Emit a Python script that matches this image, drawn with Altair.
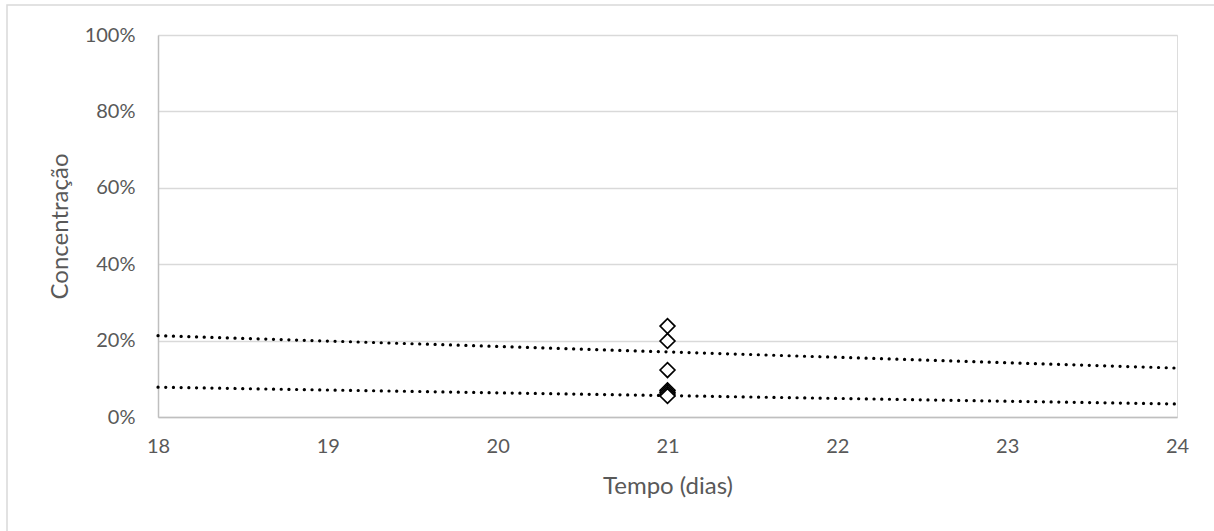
import altair as alt
import pandas as pd

# Observed points
days = [21, 21, 21, 21, 21, 21, 21]
conc = [0.238, 0.199, 0.123, 0.070, 0.065, 0.060, 0.055]

# Trend lines (endpoints)
trend_x = [18, 24]
trend_upper = [0.213, 0.128]
trend_lower = [0.078, 0.034]

x_ticks = [18, 19, 20, 21, 22, 23, 24]
y_ticks = [0, 0.2, 0.4, 0.6, 0.8, 1.0]

pts = pd.DataFrame({"d": days, "c": conc})
tr = pd.DataFrame({
    "d": trend_x + trend_x,
    "c": trend_upper + trend_lower,
    "s": ["upper"] * 2 + ["lower"] * 2,
})

FONT = "Lato"
GREY = "#595959"

xs = alt.Scale(domain=[18, 24], nice=False, zero=False)
ys = alt.Scale(domain=[0, 1], nice=False)

x_axis = alt.Axis(values=x_ticks, format="d", grid=False, ticks=False, domainColor="#bfbfbf",
                  domainWidth=1.5, labelFont=FONT, labelFontSize=20, labelColor=GREY,
                  labelPadding=19, labelFlush=False, title="Tempo (dias)", titleFont=FONT,
                  titleFontSize=24, titleColor=GREY, titleFontWeight="normal", titlePadding=18)
y_axis = alt.Axis(values=y_ticks, format=".0%", grid=True, gridColor="#d9d9d9", gridWidth=1.5,
                  ticks=False, domainColor="#bfbfbf", domainWidth=1.5, labelFont=FONT,
                  labelFontSize=20, labelColor=GREY, labelPadding=23, labelFlush=False,
                  title="Concentração", titleFont=FONT, titleFontSize=24, titleColor=GREY,
                  titleFontWeight="normal", titlePadding=12)

border = alt.Chart(pd.DataFrame({"a": [0]})).mark_rect(
    fill=None, stroke="#d9d9d9", strokeWidth=1.5, clip=False
).encode(x=alt.value(-151), x2=alt.value(1200), y=alt.value(-30), y2=alt.value(600))

lines = alt.Chart(tr).mark_line(
    color="black", strokeWidth=3.2, strokeDash=[0.1, 7.6], strokeCap="round"
).encode(
    x=alt.X("d:Q", scale=xs, axis=x_axis),
    y=alt.Y("c:Q", scale=ys, axis=y_axis),
    detail="s:N",
)

points = alt.Chart(pts).mark_point(
    shape="diamond", size=220, filled=True, fill="white", stroke="black", strokeWidth=1.7, opacity=1
).encode(
    x=alt.X("d:Q", scale=xs),
    y=alt.Y("c:Q", scale=ys),
)

chart = alt.layer(border, lines, points).properties(
    width=1019, height=382,
    padding={"left": 158, "top": 35, "right": 37, "bottom": 114},
    autosize=alt.AutoSizeParams(type="none"),
).configure_view(stroke=None).configure(background="white")

chart.save("out.html", embed_options={"renderer": "svg", "actions": False})
